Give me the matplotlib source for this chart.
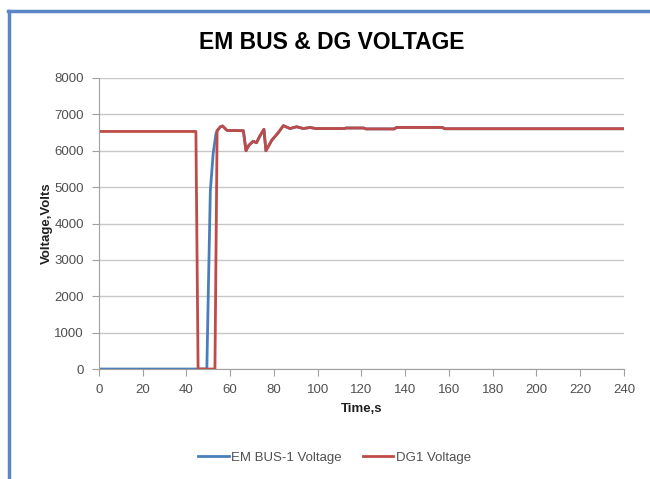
import matplotlib
matplotlib.use("Agg")
from matplotlib import pyplot as plt
from matplotlib.lines import Line2D

plt.rcParams['font.family'] = ['Liberation Sans', 'DejaVu Sans']

# DG1 voltage (red)
dg_time = [0, 44.3, 45.3, 53.0, 54.0, 55.5, 56.5, 58.5, 66.0, 67.2, 68.5, 70.5, 72.0, 73.5,
           75.4, 76.3, 79.0, 82.0, 84.3, 87.3, 90.4, 93.4, 96.5, 99.0, 112, 113, 121, 122,
           135, 136, 157, 158, 240]
dg_volt = [6530, 6530, 0, 0, 6550, 6660, 6680, 6560, 6550, 6000, 6150, 6260, 6220, 6400,
           6590, 6000, 6290, 6500, 6690, 6610, 6660, 6610, 6640, 6610, 6610, 6625, 6625, 6600,
           6600, 6640, 6640, 6605, 6605]

# EM BUS-1 voltage (blue), mostly hidden under the red line after recovery
bus_time = [0, 49.3, 50.1, 50.9, 52.2, 53.5] + dg_time[4:]
bus_volt = [0, 0, 2500, 4900, 5930, 6475] + dg_volt[4:]

blue = '#4a7ebb'
red = '#be4b48'
grey = '#505050'

fig = plt.figure(figsize=(6.5, 4.79), dpi=100)
ax = fig.add_axes([0.1523, 0.2296, 0.8077, 0.6076])

ax.plot(bus_time, bus_volt, color=blue, linewidth=2.0, label='EM BUS-1 Voltage')
ax.plot(dg_time, dg_volt, color=red, linewidth=2.0, label='DG1 Voltage')

ax.set_xlim(0, 240)
ax.set_ylim(0, 8000)
ax.set_xticks(range(0, 241, 20))
ax.set_yticks(range(0, 8001, 1000))
ax.grid(axis='y', color='#c8c8c8', linewidth=1.0)
ax.set_axisbelow(True)
for s in ['top', 'right']:
    ax.spines[s].set_visible(False)
for s in ['left', 'bottom']:
    ax.spines[s].set_color('#a0a0a0')
ax.tick_params(colors='#a0a0a0', labelcolor=grey, labelsize=9.5, length=5)
ax.tick_params(axis='y', pad=6)
ax.tick_params(axis='x', pad=6)

ax.set_xlabel('Time,s', fontsize=9.5, fontweight='bold', color='#202020', labelpad=5)
ax.set_ylabel('Voltage,Volts', fontsize=9.5, fontweight='bold', color='#202020', labelpad=1)
fig.text(0.51, 0.912, 'EM BUS & DG VOLTAGE', ha='center', va='center',
         fontsize=16.5, fontweight='bold', color='black')

fig.legend(loc='center', bbox_to_anchor=(0.515, 0.045), ncol=2, frameon=False,
           fontsize=9.5, handlelength=2.3, columnspacing=1.6, handletextpad=0.2,
           labelcolor=grey)

# partial frame of the original screenshot
fig.add_artist(Line2D([0.013, 1.0], [0.978, 0.978], color='#5b86c5', linewidth=2.5,
                      transform=fig.transFigure))
fig.add_artist(Line2D([0.014, 0.014], [0.0, 0.978], color='#5b86c5', linewidth=2.5,
                      transform=fig.transFigure))

fig.savefig('out.png', dpi=100)
